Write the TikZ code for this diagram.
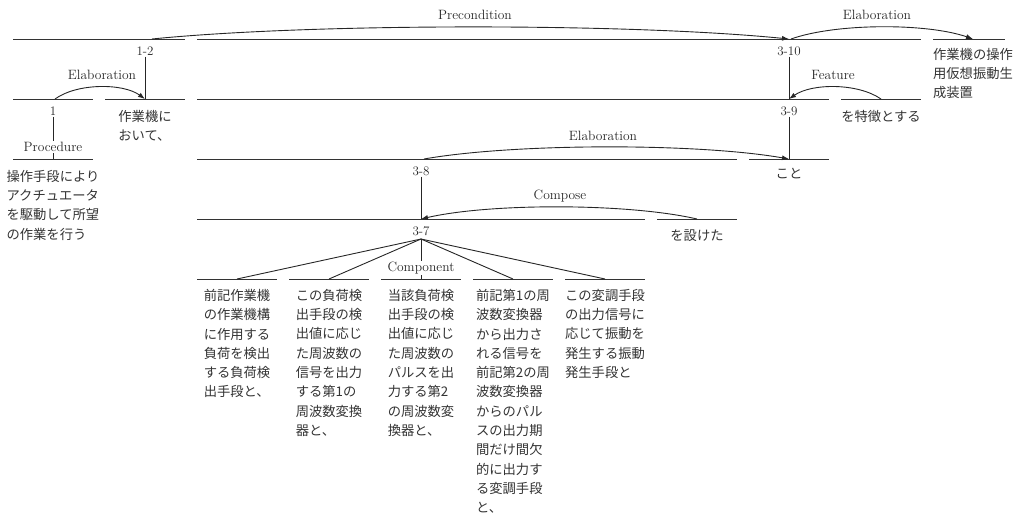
\documentclass[tikz,border=0pt]{standalone}
\usepackage{fontspec}
\newfontfamily\jp{Noto Sans CJK JP}
\usetikzlibrary{arrows.meta}
\begin{document}
\begin{tikzpicture}[x=1pt,y=-1pt,
  seg/.style={line width=1pt, draw=black!80},
  link/.style={line width=0.9pt, draw=black!85},
  rel/.style={line width=0.9pt, draw=black!85, -{Latex[length=7pt,width=5pt]}},
  lbl/.style={font=\fontsize{13.5}{15}\selectfont, inner sep=0pt, text=black!85},
  idx/.style={font=\fontsize{13}{15}\selectfont, inner sep=1pt, text=black!85},
  onlink/.style={lbl, fill=white, inner sep=1pt},
  jt/.style={font=\jp\fontsize{13.3}{19.3}\selectfont, align=left, anchor=north, inner sep=0pt, text=black!80},
]
\path[use as bounding box] (0,0) rectangle (1016,514);

% ---- row segments ----
\draw[seg] (13,39) coordinate (a1) -- (185,39) coordinate (a2);
\draw[seg] (197,39) coordinate (b1) -- (921,39) coordinate (b2);
\draw[seg] (933,39) coordinate (c1) -- (1005,39) coordinate (c2);

\draw[seg] (13,99) coordinate (d1) -- (93,99) coordinate (d2);
\draw[seg] (105,99) coordinate (e1) -- (185,99) coordinate (e2);
\draw[seg] (197,99) coordinate (f1) -- (829,99) coordinate (f2);
\draw[seg] (841,99) coordinate (g1) -- (921,99) coordinate (g2);

\draw[seg] (13,159) coordinate (h1) -- (93,159) coordinate (h2);
\draw[seg] (197,159) coordinate (i1) -- (737,159) coordinate (i2);
\draw[seg] (749,159) coordinate (j1) -- (829,159) coordinate (j2);

\draw[seg] (197,219) coordinate (k1) -- (645,219) coordinate (k2);
\draw[seg] (657,219) coordinate (l1) -- (737,219) coordinate (l2);

\draw[seg] (197,279) coordinate (m1) -- (277,279) coordinate (m2);
\draw[seg] (289,279) coordinate (n1) -- (369,279) coordinate (n2);
\draw[seg] (381,279) coordinate (o1) -- (461,279) coordinate (o2);
\draw[seg] (473,279) coordinate (p1) -- (553,279) coordinate (p2);
\draw[seg] (565,279) coordinate (q1) -- (645,279) coordinate (q2);

% ---- index labels and vertical links ----
\node[idx] (x12) at (145,51) {1-2};
\coordinate (x12r) at (145,99);
\draw[link] (x12.south) -- (x12r);

\node[idx] (x1) at (53,111) {1};
\coordinate (x1r) at (53,159);
\draw[link] (x1.south) -- (x1r);
\node[onlink] (proc) at (53,147) {Procedure};

\node[idx] (x310) at (789,51) {3-10};
\coordinate (x310r) at (789,99);
\draw[link] (x310.south) -- (x310r);

\node[idx] (x39) at (789,111) {3-9};
\coordinate (x39r) at (789,159);
\draw[link] (x39.south) -- (x39r);

\node[idx] (x38) at (421,171) {3-8};
\coordinate (x38r) at (421,219);
\draw[link] (x38.south) -- (x38r);

\node[idx] (x37) at (421,231) {3-7};
\coordinate (fan) at (421,239);
\coordinate (fa) at (237,279);
\coordinate (fb) at (329,279);
\coordinate (fc) at (421,279);
\coordinate (fd) at (513,279);
\coordinate (fe) at (605,279);
\draw[link] (fan) -- (fa);
\draw[link] (fan) -- (fb);
\draw[link] (fan) -- (fc);
\draw[link] (fan) -- (fd);
\draw[link] (fan) -- (fe);
\node[onlink] (comp) at (421,268) {Component};

% ---- relation arcs ----
\coordinate (s12) at (152,39);
\coordinate (t310) at (789,39);
\draw[rel] (s12) .. controls (312,23) and (629,23) .. (t310);
\node[lbl] (precond) at (475,15) {Precondition};

\coordinate (s310) at (791,39);
\coordinate (t10) at (973,39);
\draw[rel] (s310) .. controls (836,23) and (927,23) .. (t10);
\node[lbl] (elab1) at (877,15) {Elaboration};

\coordinate (s1) at (55,99);
\draw[rel] (s1) .. controls (77,83) and (123,83) .. (x12r);
\node[lbl] (elab2) at (102,75) {Elaboration};

\coordinate (s9) at (881,99);
\draw[rel] (s9) .. controls (858,83) and (812,83) .. (x310r);
\node[lbl] (feat) at (833,75) {Feature};

\coordinate (s38) at (424,159);
\draw[rel] (s38) .. controls (515,143) and (698,143) .. (x39r);
\node[lbl] (elab3) at (603,136) {Elaboration};

\coordinate (s7) at (697,219);
\draw[rel] (s7) .. controls (628,203) and (490,203) .. (x38r);
\node[lbl] (compose) at (560,196) {Compose};

% ---- texts ----
\node[jt] (tx0) at (53,170) {操作手段により\\アクチュエータ\\を駆動して所望\\の作業を行う};
\node[jt] (tx1) at (145,110) {作業機に\\おいて、};
\node[jt] (tx10) at (973,48) {作業機の操作\\用仮想振動生\\成装置};
\node[jt] (tx9) at (881,110) {を特徴とする};
\node[jt] (tx8) at (789,168) {こと};
\node[jt] (tx7) at (697,230) {を設けた};
\node[jt] (tx2) at (237,289) {前記作業機\\の作業機構\\に作用する\\負荷を検出\\する負荷検\\出手段と、};
\node[jt] (tx3) at (329,289) {この負荷検\\出手段の検\\出値に応じ\\た周波数の\\信号を出力\\する第1の\\周波数変換\\器と、};
\node[jt] (tx4) at (421,289) {当該負荷検\\出手段の検\\出値に応じ\\た周波数の\\パルスを出\\力する第2\\の周波数変\\換器と、};
\node[jt] (tx5) at (513,289) {前記第1の周\\波数変換器\\から出力さ\\れる信号を\\前記第2の周\\波数変換器\\からのパル\\スの出力期\\間だけ間欠\\的に出力す\\る変調手段\\と、};
\node[jt] (tx6) at (605,289) {この変調手段\\の出力信号に\\応じて振動を\\発生する振動\\発生手段と};
\end{tikzpicture}
\end{document}
